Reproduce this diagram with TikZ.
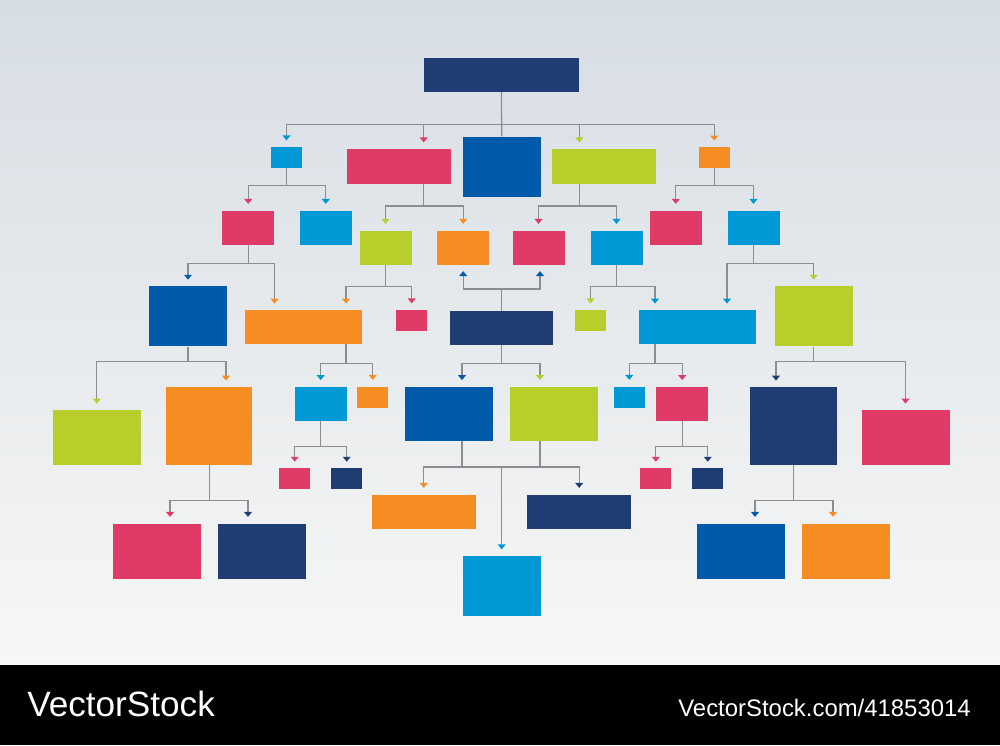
\documentclass[tikz,border=0pt]{standalone}
\usepackage{fontspec}
\newfontfamily\vsfont{Liberation Sans}
\usetikzlibrary{arrows.meta}
\definecolor{navy}{RGB}{31,61,115}
\definecolor{dblue}{RGB}{0,90,170}
\definecolor{cyanb}{RGB}{0,152,213}
\definecolor{pinkb}{RGB}{224,58,102}
\definecolor{limeb}{RGB}{184,206,43}
\definecolor{orangeb}{RGB}{245,141,34}
\definecolor{linea}{RGB}{138,141,145}
\definecolor{bgtop}{RGB}{214,221,228}
\definecolor{bgmid}{RGB}{238,241,243}
\definecolor{bgbot}{RGB}{247,247,246}

\tikzset{
  box/.style={fill=#1, draw=none, inner sep=0pt},
  sz/.style 2 args={minimum width=#1*0.025cm, minimum height=#2*0.025cm},
  link/.style={draw=linea, line width=0.9pt},
  arr/.style={link, shorten >=4.5pt, -{Triangle[width=5.5pt,length=3.5pt,color=#1]}},
}

\begin{document}
\begin{tikzpicture}[x=0.025cm, y=-0.025cm]
\useasboundingbox (0,0) rectangle (1000,745);
% sfondo
\shade[top color=bgtop, middle color=bgmid, bottom color=bgbot] (0,0) rectangle (1000,665);
\fill[black] (0,665) rectangle (1000,745);

% livello 0
\node[box=navy, sz={155}{34}] (radice) at (501.5,75) {};

% livello 1
\node[box=cyanb, sz={31}{21}] (a1) at (286.5,157.5) {};
\node[box=pinkb, sz={104}{35}] (a2) at (399,166.5) {};
\node[box=dblue, sz={78}{60}] (a3) at (501.7,166.7) {};
\node[box=limeb, sz={104}{35}] (a4) at (603.7,166.5) {};
\node[box=orangeb, sz={31}{21}] (a5) at (714.3,157.7) {};

% livello 2
\node[box=pinkb, sz={52}{34}] (b1) at (248.2,227.5) {};
\node[box=cyanb, sz={52}{34}] (b2) at (325.8,227.5) {};
\node[box=limeb, sz={52}{34}] (b3) at (385.5,247.5) {};
\node[box=orangeb, sz={52}{34}] (b4) at (463.2,247.5) {};
\node[box=pinkb, sz={52}{34}] (b5) at (538.5,247.5) {};
\node[box=cyanb, sz={52}{34}] (b6) at (616.5,247.5) {};
\node[box=pinkb, sz={52}{34}] (b7) at (675.8,227.5) {};
\node[box=cyanb, sz={52}{34}] (b8) at (753.5,227.5) {};

% livello 3
\node[box=dblue, sz={78}{60}] (c1) at (188,316.3) {};
\node[box=orangeb, sz={117}{34}] (c2) at (303.8,327.2) {};
\node[box=pinkb, sz={31}{21}] (c3) at (411.7,320.5) {};
\node[box=navy, sz={103}{34}] (c4) at (501.7,328) {};
\node[box=limeb, sz={31}{21}] (c5) at (590.5,320.5) {};
\node[box=cyanb, sz={117}{34}] (c6) at (697.5,327.2) {};
\node[box=limeb, sz={78}{60}] (c7) at (813.7,316.3) {};

% livello 4
\node[box=limeb, sz={88}{55}] (d1) at (96.8,437.7) {};
\node[box=orangeb, sz={86}{78}] (d2) at (209.2,426.2) {};
\node[box=cyanb, sz={52}{34}] (d3) at (320.7,403.7) {};
\node[box=orangeb, sz={31}{21}] (d4) at (372.7,397) {};
\node[box=dblue, sz={88}{54}] (d5) at (448.8,413.7) {};
\node[box=limeb, sz={88}{54}] (d6) at (553.8,413.7) {};
\node[box=cyanb, sz={31}{21}] (d7) at (629.3,397) {};
\node[box=pinkb, sz={52}{34}] (d8) at (682.2,403.7) {};
\node[box=navy, sz={87}{78}] (d9) at (793.3,426.2) {};
\node[box=pinkb, sz={88}{55}] (d10) at (905.5,437.7) {};

% livello 5
\node[box=pinkb, sz={88}{55}] (e1) at (156.5,551) {};
\node[box=navy, sz={88}{55}] (e2) at (261.8,551) {};
\node[box=pinkb, sz={31}{21}] (e3) at (294.7,478.8) {};
\node[box=navy, sz={31}{21}] (e4) at (346.7,478.8) {};
\node[box=orangeb, sz={104}{34}] (e5) at (423.8,511.5) {};
\node[box=navy, sz={104}{34}] (e6) at (579.2,511.5) {};
\node[box=cyanb, sz={78}{60}] (e7) at (501.7,586) {};
\node[box=pinkb, sz={31}{21}] (e8) at (655.8,478.8) {};
\node[box=navy, sz={31}{21}] (e9) at (707.8,478.8) {};
\node[box=dblue, sz={88}{55}] (e10) at (741.2,551) {};
\node[box=orangeb, sz={88}{55}] (e11) at (846.3,551) {};

% collegamenti 0-1
\draw[link] (radice.south) -- (a3.north);
\draw[arr=cyanb] (radice.south) -- ++(0,32) -| (a1);
\draw[arr=pinkb] (radice.south) -- ++(0,32) -| (radice.west |- a2.north);
\draw[arr=limeb] (radice.south) -- ++(0,32) -| (radice.east |- a4.north);
\draw[arr=orangeb] (radice.south) -- ++(0,32) -| (a5);

% collegamenti 1-2
\draw[arr=pinkb] (a1.south) -- ++(0,17) -| (b1);
\draw[arr=cyanb] (a1.south) -- ++(0,17) -| (b2);
\draw[arr=limeb] (radice.west |- a2.south) -- ++(0,21.6) -| (b3);
\draw[arr=orangeb] (radice.west |- a2.south) -- ++(0,21.6) -| (b4);
\draw[arr=pinkb] (radice.east |- a4.south) -- ++(0,21.6) -| (b5);
\draw[arr=cyanb] (radice.east |- a4.south) -- ++(0,21.6) -| (b6);
\draw[arr=pinkb] (a5.south) -- ++(0,17) -| (b7);
\draw[arr=cyanb] (a5.south) -- ++(0,17) -| (b8);

% collegamenti 2-3
\draw[arr=dblue] (b1.south) -- ++(0,19) -| (c1);
\draw[arr=orangeb] (b1.south) -- ++(0,19) -| (b1.east |- c2.north);
\draw[arr=orangeb] (b3.south) -- ++(0,22) -| (c2.north -| 346,0);
\draw[arr=pinkb] (b3.south) -- ++(0,22) -| (c3);
\draw[arr=limeb] (b6.south) -- ++(0,21.6) -| (c5);
\draw[arr=cyanb] (b6.south) -- ++(0,21.6) -| (c6.north -| 655,0);
\draw[arr=cyanb] (b8.south) -- ++(0,18.6) -| (c6.north -| 727,0);
\draw[arr=limeb] (b8.south) -- ++(0,18.6) -| (c7);
% frecce verso l'alto
\draw[arr=dblue] (c4.north) -- ++(0,-21.7) -| (b4);
\draw[arr=dblue] (c4.north) -- ++(0,-21.7) -| (b5.south -| 540,0);

% collegamenti 3-4
\draw[arr=limeb] (c1.south) -- ++(0,15) -| (d1);
\draw[arr=orangeb] (c1.south) -- ++(0,15) -| (d2.north -| 226,0);
\draw[arr=cyanb] (c2.south -| 346,0) -- ++(0,18.7) -| (d3);
\draw[arr=orangeb] (c2.south -| 346,0) -- ++(0,18.7) -| (d4);
\draw[arr=dblue] (c4.south) -- ++(0,18) -| (d5.north -| 462,0);
\draw[arr=limeb] (c4.south) -- ++(0,18) -| (d6.north -| 540,0);
\draw[arr=cyanb] (c6.south -| 655,0) -- ++(0,19) -| (d7);
\draw[arr=pinkb] (c6.south -| 655,0) -- ++(0,19) -| (d8);
\draw[arr=navy] (c7.south) -- ++(0,15) -| (d9.north -| 776,0);
\draw[arr=pinkb] (c7.south) -- ++(0,15) -| (d10);

% collegamenti 4-5
\draw[arr=pinkb] (d2.south) -- ++(0,35.3) -| (e1.north -| 170,0);
\draw[arr=navy] (d2.south) -- ++(0,35.3) -| (e2.north -| 248,0);
\draw[arr=pinkb] (d3.south) -- ++(0,25.3) -| (e3);
\draw[arr=navy] (d3.south) -- ++(0,25.3) -| (e4);
\coordinate (nodo) at (501.7,467);
\draw[link] (d5.south -| 462,0) |- (nodo);
\draw[link] (d6.south -| 540,0) |- (nodo);
\draw[arr=orangeb] (nodo) -| (e5);
\draw[arr=navy] (nodo) -| (e6);
\draw[arr=cyanb] (nodo) -- (e7);
\draw[arr=pinkb] (d8.south) -- ++(0,25.3) -| (e8);
\draw[arr=navy] (d8.south) -- ++(0,25.3) -| (e9);
\draw[arr=dblue] (d9.south) -- ++(0,35.3) -| (e10.north -| 755,0);
\draw[arr=orangeb] (d9.south) -- ++(0,35.3) -| (e11.north -| 833,0);

% scritte in basso
\node[anchor=base west, inner sep=0pt, text=white, font=\vsfont\fontsize{25}{30}\selectfont] (marchio) at (27,716.7) {VectorStock};
\node[anchor=base east, inner sep=0pt, text=white, font=\vsfont\fontsize{17}{21}\selectfont] (sito) at (971,716) {VectorStock.com/41853014};
\end{tikzpicture}
\end{document}
